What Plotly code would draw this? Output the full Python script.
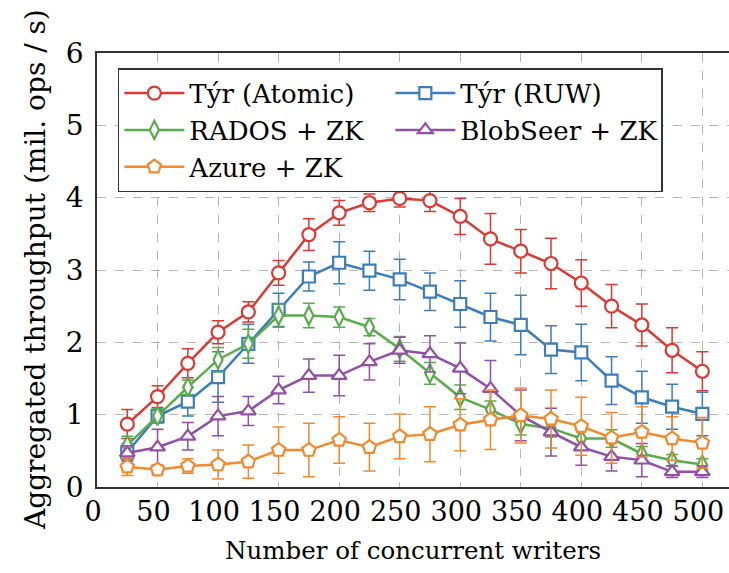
import plotly.graph_objects as go

writers = [25, 50, 75, 100, 125, 150, 175, 200, 225, 250,
           275, 300, 325, 350, 375, 400, 425, 450, 475, 500]

atomic = [0.87, 1.25, 1.71, 2.14, 2.42, 2.96, 3.49, 3.79, 3.93, 3.99,
          3.96, 3.74, 3.43, 3.26, 3.09, 2.82, 2.50, 2.24, 1.89, 1.60]
atomic_err = [0.20, 0.15, 0.20, 0.16, 0.14, 0.17, 0.22, 0.17, 0.12, 0.12,
              0.15, 0.25, 0.35, 0.30, 0.35, 0.32, 0.30, 0.29, 0.31, 0.27]

ruw = [0.48, 0.98, 1.18, 1.52, 1.98, 2.45, 2.91, 3.10, 2.99, 2.87,
       2.70, 2.53, 2.35, 2.24, 1.90, 1.86, 1.47, 1.24, 1.11, 1.01]
ruw_err = [0.12, 0.10, 0.20, 0.35, 0.27, 0.23, 0.20, 0.29, 0.27, 0.28,
           0.26, 0.32, 0.33, 0.41, 0.33, 0.39, 0.33, 0.36, 0.31, 0.30]

rados = [0.58, 0.98, 1.38, 1.76, 1.98, 2.37, 2.37, 2.35, 2.21, 1.91,
         1.57, 1.24, 1.07, 0.87, 0.81, 0.67, 0.67, 0.46, 0.37, 0.31]
rados_err = [0.12, 0.10, 0.10, 0.17, 0.20, 0.16, 0.17, 0.14, 0.12, 0.17,
             0.15, 0.17, 0.12, 0.15, 0.12, 0.12, 0.12, 0.10, 0.08, 0.08]

blobseer = [0.47, 0.55, 0.70, 0.98, 1.05, 1.34, 1.54, 1.54, 1.73, 1.89,
            1.84, 1.64, 1.36, 0.99, 0.76, 0.55, 0.42, 0.37, 0.21, 0.21]
blobseer_err = [0.10, 0.25, 0.19, 0.27, 0.20, 0.19, 0.23, 0.28, 0.25, 0.18,
                0.25, 0.35, 0.39, 0.35, 0.33, 0.25, 0.20, 0.23, 0.08, 0.08]

azure = [0.28, 0.24, 0.29, 0.31, 0.35, 0.51, 0.51, 0.65, 0.55, 0.70,
         0.73, 0.86, 0.93, 0.99, 0.94, 0.84, 0.68, 0.76, 0.67, 0.61]
azure_err = [0.12, 0.06, 0.10, 0.20, 0.23, 0.32, 0.37, 0.32, 0.33, 0.31,
             0.38, 0.36, 0.41, 0.38, 0.40, 0.40, 0.35, 0.35, 0.30, 0.35]

x_ticks = [0, 50, 100, 150, 200, 250, 300, 350, 400, 450, 500]
y_ticks = [0, 1, 2, 3, 4, 5, 6]

series = [
    ("Týr (Atomic)", atomic, atomic_err, "#d93a34", "circle", 13),
    ("Týr (RUW)", ruw, ruw_err, "#3d7dba", "square", 12),
    ("RADOS + ZK", rados, rados_err, "#5aab4c", "diamond-tall", 13),
    ("BlobSeer + ZK", blobseer, blobseer_err, "#9150a3", "triangle-up", 13),
    ("Azure + ZK", azure, azure_err, "#f0892f", "pentagon", 14),
]

FONT = "DejaVu Serif"

fig = go.Figure()
for name, vals, err, color, sym, size in series:
    fig.add_trace(go.Scatter(
        x=writers, y=vals, name=name, mode="lines+markers",
        line=dict(color=color, width=2.5),
        marker=dict(symbol=sym, size=size, color="white",
                    line=dict(color=color, width=2.2)),
        error_y=dict(type="data", array=err, visible=True,
                     color=color, thickness=1.5, width=6),
    ))

fig.update_layout(
    width=729, height=573,
    margin=dict(l=97, r=0, t=53, b=86),
    paper_bgcolor="white", plot_bgcolor="white",
    font=dict(family=FONT, size=26, color="black"),
    showlegend=True,
    legend=dict(
        orientation="h", x=0.033, y=0.965, xanchor="left", yanchor="top",
        bgcolor="white", bordercolor="#333333", borderwidth=1.5,
        font=dict(family=FONT, size=26, color="black"),
        itemwidth=60, entrywidth=196, tracegroupgap=0,
    ),
    annotations=[dict(
        text="Aggregated throughput (mil. ops / s)", xref="paper", yref="paper",
        x=-62 / 632, y=0.5, xanchor="center", yanchor="middle", textangle=-90,
        showarrow=False, font=dict(family=FONT, size=28, color="black"),
    )],
)
fig.update_xaxes(
    range=[0, 522], tickvals=x_ticks, ticktext=[str(v) for v in x_ticks],
    showgrid=True, gridcolor="#b5b5b5", griddash="dash", gridwidth=1,
    showline=True, linecolor="#333333", linewidth=1.5, mirror="ticks",
    ticks="inside", ticklen=5, tickcolor="#b5b5b5",
    tickfont=dict(family=FONT, size=27), zeroline=False,
    ticklabeloverflow="allow", ticklabelshift=-4,
    title=dict(text="Number of concurrent writers", font=dict(family=FONT, size=24.5), standoff=16),
)
fig.update_yaxes(
    range=[0, 6], tickvals=y_ticks, ticktext=[str(v) for v in y_ticks],
    showgrid=True, gridcolor="#b5b5b5", griddash="dash", gridwidth=1,
    showline=True, linecolor="#333333", linewidth=1.5, mirror=False,
    ticks="inside", ticklen=5, tickcolor="#b5b5b5",
    tickfont=dict(family=FONT, size=28), zeroline=False, ticklabelstandoff=6,
)

fig.write_html("out.html", config={"displayModeBar": False},
               post_script="document.body.style.margin='0';")
